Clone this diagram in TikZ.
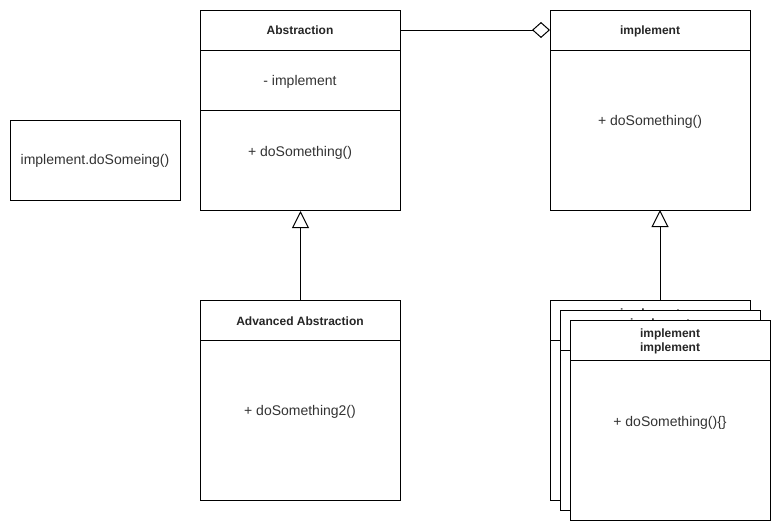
\documentclass[tikz,border=0pt]{standalone}
\usepackage{fontspec}
\setmainfont{Liberation Sans}
\usetikzlibrary{arrows.meta}
\begin{document}
\begin{tikzpicture}[x=0.75pt,y=-0.75pt,
  line width=0.75pt,
  classbox/.style={draw, fill=white, minimum width=150pt, minimum height=150pt, anchor=north west, inner sep=0pt},
  notebox/.style={draw, fill=white, minimum width=127.5pt, minimum height=60pt, anchor=north west, inner sep=0pt},
  head/.style={font=\fontsize{9}{10.5}\selectfont\bfseries, align=center, inner sep=0pt, text=black!85, anchor=base},
  head2/.style={font=\fontsize{9}{10.5}\selectfont\bfseries, align=center, inner sep=0pt, text=black!85},
  txt/.style={font=\fontsize{10.5}{12}\selectfont, align=center, inner sep=0pt, text=black!80, anchor=base},
  agg/.style={-{Diamond[open, length=13.5pt, width=12pt, line width=0.75pt]}},
  inh/.style={-{Triangle[open, length=12.75pt, width=12.75pt, line width=0.75pt]}}
]
\useasboundingbox (0,0) rectangle (782,532);

% note
\node[notebox] (note) at (10,120) {};
\node[txt] (notet) at (95,164) {implement.doSomeing()};

% Abstraction
\node[classbox] (abs) at (200,10) {};
\draw (200,50) -- (400,50);
\draw (200,110) -- (400,110);
\node[head] (absh) at (300,34) {Abstraction};
\node[txt] (absa) at (300,85) {- implement};
\node[txt] (absm) at (300,156) {+ doSomething()};

% implement
\node[classbox] (imp) at (550,10) {};
\draw (550,50) -- (750,50);
\node[head] (imph) at (650,34) {implement};
\node[txt] (impm) at (650,125) {+ doSomething()};

% Advanced Abstraction
\node[classbox] (adv) at (200,300) {};
\draw (200,340) -- (400,340);
\node[head] (advh) at (300,325) {Advanced Abstraction};
\node[txt] (advm) at (300,415) {+ doSomething2()};

% stacked implementations
\node[classbox] (c1) at (550,300) {};
\draw (550,340) -- (750,340);
\node[head2] (c1h) at (650,321) {implement\\implement};
\node[txt] (c1m) at (650,406) {+ doSomething()\{\}};

\node[classbox] (c2) at (560,310) {};
\draw (560,350) -- (760,350);
\node[head2] (c2h) at (660,331) {implement\\implement};
\node[txt] (c2m) at (660,416) {+ doSomething()\{\}};

\node[classbox] (c3) at (570,320) {};
\draw (570,360) -- (770,360);
\node[head2] (c3h) at (670,341) {implement\\implement};
\node[txt] (c3m) at (670,426) {+ doSomething()\{\}};

% connectors
\coordinate (absr) at (400,30);
\coordinate (impl) at (550,30);
\draw[agg] (absr) -- (impl);
\draw[inh] (adv.north) -- (abs.south);
\coordinate (c1top) at (660,300);
\coordinate (impbot) at (660,210);
\draw[inh] (c1top) -- (impbot);
\end{tikzpicture}
\end{document}
